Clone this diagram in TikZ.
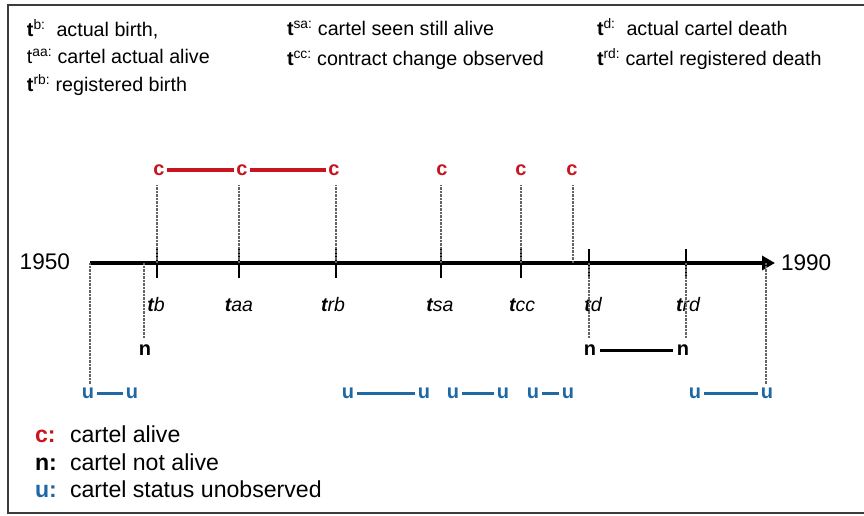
\documentclass[tikz,border=0pt]{standalone}
\usepackage{fontspec}
\setmainfont{Liberation Sans}
\usetikzlibrary{arrows.meta}
\definecolor{alivered}{RGB}{200,20,30}
\definecolor{unobsblue}{RGB}{30,105,165}
\definecolor{guidegray}{RGB}{100,100,100}
\definecolor{framegray}{RGB}{60,60,60}

\begin{document}
\begin{tikzpicture}[x=1pt,y=-1pt,
  every node/.style={inner sep=0pt,outer sep=0pt},
  legtop/.style={font=\fontsize{19.7}{22}\selectfont,anchor=base west},
  legbot/.style={font=\fontsize{23.1}{26}\selectfont,anchor=base west},
  yearlbl/.style={font=\fontsize{22.6}{25}\selectfont},
  ticklbl/.style={font=\fontsize{19.5}{22}\selectfont,anchor=base},
  cstate/.style={font=\fontsize{20}{22}\selectfont\bfseries,text=alivered},
  nstate/.style={font=\fontsize{20}{22}\selectfont\bfseries,text=black},
  ustate/.style={font=\fontsize{20}{22}\selectfont\bfseries,text=unobsblue},
  guide/.style={draw=guidegray,line width=1.4pt,dash pattern=on 0.8pt off 0.6pt},
  tickmark/.style={draw=black,line width=2.6pt},
  cspan/.style={draw=alivered,line width=3.5pt,shorten <=2pt,shorten >=2pt},
  nspan/.style={draw=black,line width=3pt,shorten <=4pt,shorten >=4pt},
  uspan/.style={draw=unobsblue,line width=3pt,shorten <=3pt,shorten >=3pt},
]
\useasboundingbox (0,0) rectangle (864,516);
\fill[white] (0,0) rectangle (864,516);

% frame
\draw[framegray,line width=2.5pt] (8,5) rectangle (880,513);

% definitions, top
\node[legtop] (l1) at (27,37) {\textbf{t}\textsuperscript{b:}\ \ actual birth,};
\node[legtop] (l2) at (27,64) {t\textsuperscript{aa:} cartel actual alive};
\node[legtop] (l3) at (27,92) {\textbf{t}\textsuperscript{rb:} registered birth};
\node[legtop] (l4) at (287,36) {\textbf{t}\textsuperscript{sa:} cartel seen still alive};
\node[legtop] (l5) at (287,66) {\textbf{t}\textsuperscript{cc:} contract change observed};
\node[legtop] (l6) at (597,36) {\textbf{t}\textsuperscript{d:}\ \ actual cartel death};
\node[legtop] (l7) at (597,66) {\textbf{t}\textsuperscript{rd:} cartel registered death};

% time axis
\coordinate (start) at (90,263);
\coordinate (end) at (775,263);
\draw[line width=4.5pt,-{Triangle[length=13pt,width=14pt]}] (start) -- (end);
\node[yearlbl,anchor=east] (y1950) at (70,262) {1950};
\node[yearlbl,anchor=west] (y1990) at (781,263) {1990};

% points on the axis
\coordinate (ab) at (157,263);
\coordinate (aaa) at (239,263);
\coordinate (arb) at (336,263);
\coordinate (asa) at (441,263);
\coordinate (acc) at (521,263);
\coordinate (alast) at (573,263);
\coordinate (ad) at (589,263);
\coordinate (ard) at (686,263);
\coordinate (an0) at (144,263);
\coordinate (au0) at (90,263);
\coordinate (au1) at (766,263);

% tick marks
\foreach \p in {ab,aaa,arb,asa,acc,ad,ard}
  \draw[tickmark] (\p) ++(0,-14) -- ++(0,29);

% tick labels
\node[ticklbl] (tb) at (156,311) {{\bfseries\itshape t}{\itshape b}};
\node[ticklbl] (taa) at (239,311) {{\bfseries\itshape t}{\itshape aa}};
\node[ticklbl] (trb) at (333,311) {{\bfseries\itshape t}{\itshape rb}};
\node[ticklbl] (tsa) at (440,311) {{\bfseries\itshape t}{\itshape sa}};
\node[ticklbl] (tcc) at (522,311) {{\bfseries\itshape t}{\itshape cc}};
\node[ticklbl] (td) at (593,311) {{\bfseries\itshape t}{\itshape d}};
\node[ticklbl] (trd) at (688,311) {{\bfseries\itshape t}{\itshape rd}};

% cartel alive observations
\node[cstate] (c1) at (159,170) {c};
\node[cstate] (c2) at (242,170) {c};
\node[cstate] (c3) at (334,170) {c};
\node[cstate] (c4) at (442,170) {c};
\node[cstate] (c5) at (521,170) {c};
\node[cstate] (c6) at (572,170) {c};
\draw[cspan] (c1) -- (c2);
\draw[cspan] (c2) -- (c3);

\draw[guide] (ab) -- ([yshift=-10pt]ab |- c1.south);
\draw[guide] (aaa) -- ([yshift=-10pt]aaa |- c2.south);
\draw[guide] (arb) -- ([yshift=-10pt]arb |- c3.south);
\draw[guide] (asa) -- ([yshift=-10pt]asa |- c4.south);
\draw[guide] (acc) -- ([yshift=-10pt]acc |- c5.south);
\draw[guide] (alast) -- ([yshift=-10pt]alast |- c6.south);

% cartel not alive observations
\node[nstate] (n1) at (145,350) {n};
\node[nstate] (n2) at (590,350) {n};
\node[nstate] (n3) at (683,350) {n};
\draw[nspan] (n2) -- (n3);
\draw[guide] (an0) -- ([yshift=7pt]an0 |- n1.north);
\draw[guide] (ad) -- ([yshift=7pt]ad |- n2.north);
\draw[guide] (ard) -- ([yshift=7pt]ard |- n3.north);

% unobserved stretches
\node[ustate] (u1) at (88,393) {u};
\node[ustate] (u2) at (132,393) {u};
\node[ustate] (u3) at (348,393) {u};
\node[ustate] (u4) at (424,393) {u};
\node[ustate] (u5) at (453,393) {u};
\node[ustate] (u6) at (503,393) {u};
\node[ustate] (u7) at (533,393) {u};
\node[ustate] (u8) at (568,393) {u};
\node[ustate] (u9) at (695,393) {u};
\node[ustate] (u10) at (767,393) {u};
\draw[uspan] (u1) -- (u2);
\draw[uspan] (u3) -- (u4);
\draw[uspan] (u5) -- (u6);
\draw[uspan] (u7) -- (u8);
\draw[uspan] (u9) -- (u10);
\draw[guide] (au0) -- ([yshift=4pt]au0 |- u1.north);
\draw[guide] (au1) -- ([yshift=4pt]au1 |- u10.north);

% key to the states
\node[legbot] (kc) at (35,442) {\textbf{\textcolor{alivered}{c:}}};
\node[legbot] (kn) at (35,470) {\textbf{n:}};
\node[legbot] (ku) at (35,497) {\textbf{\textcolor{unobsblue}{u:}}};
\node[legbot] (kct) at (70,442) {cartel alive};
\node[legbot] (knt) at (70,470) {cartel not alive};
\node[legbot] (kut) at (70,497) {cartel status unobserved};
\end{tikzpicture}
\end{document}
